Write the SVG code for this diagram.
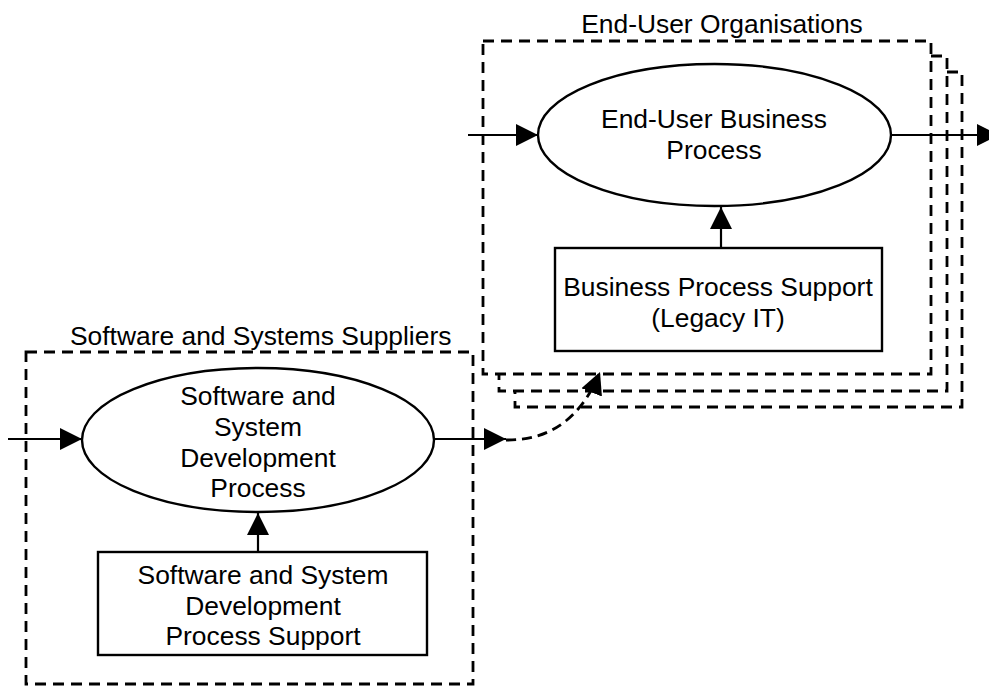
<svg xmlns="http://www.w3.org/2000/svg" width="989" height="687" viewBox="0 0 989 687">
  <style>
    .frame { fill: #ffffff; stroke: #000000; stroke-width: 2.8; stroke-dasharray: 11 7; }
    .node { fill: #ffffff; stroke: #000000; stroke-width: 2.4; }
    .label { font-family: "Liberation Sans", Arial, sans-serif; font-size: 26.4px; fill: #000000; text-anchor: middle; }
    .title { font-family: "Liberation Sans", Arial, sans-serif; font-size: 26.4px; fill: #000000; }
    .flow { fill: none; stroke: #000000; stroke-width: 2.2; }
    .dashed { stroke-dasharray: 10 6; stroke-width: 2.8; }
  </style>
  <defs>
    <marker id="head" markerUnits="userSpaceOnUse" markerWidth="22" markerHeight="22" viewBox="0 0 21 21" refX="21" refY="10.5" orient="auto">
      <path d="M0,0 L21,10.5 L0,21 z" fill="#000000"/>
    </marker>
  </defs>

  <rect width="989" height="687" fill="#ffffff"/>

  <!-- Stacked end-user organisation frames -->
  <g id="end-user-organisations">
    <rect class="frame" x="515" y="72" width="447" height="335"/>
    <rect class="frame" x="499" y="56" width="448" height="335"/>
    <rect class="frame" x="483" y="41" width="448" height="333"/>
    <text class="title" x="722" y="33" text-anchor="middle">End-User Organisations</text>
  </g>

  <!-- Supplier frame -->
  <g id="software-suppliers">
    <rect class="frame" x="26" y="352" width="447" height="332"/>
    <text class="title" x="70" y="345">Software and Systems Suppliers</text>
  </g>

  <g id="end-user-business-process">
    <ellipse class="node" cx="714.5" cy="135" rx="176.5" ry="71"/>
    <text class="label" x="714" y="128">End-User Business</text>
    <text class="label" x="714" y="159">Process</text>
  </g>

  <g id="business-process-support">
    <rect class="node" x="555" y="248" width="327" height="103"/>
    <text class="label" x="718" y="296">Business Process Support</text>
    <text class="label" x="718" y="327">(Legacy IT)</text>
  </g>

  <g id="development-process">
    <ellipse class="node" cx="258" cy="440" rx="176" ry="72"/>
    <text class="label" x="258" y="405">Software and</text>
    <text class="label" x="258" y="436">System</text>
    <text class="label" x="258" y="467">Development</text>
    <text class="label" x="258" y="497">Process</text>
  </g>

  <g id="development-process-support">
    <rect class="node" x="98" y="552" width="329" height="103"/>
    <text class="label" x="263" y="584">Software and System</text>
    <text class="label" x="263" y="615">Development</text>
    <text class="label" x="263" y="645">Process Support</text>
  </g>

  <!-- Connectors -->
  <g id="connectors">
    <path class="flow" d="M468,135 L538,135" marker-end="url(#head)"/>
    <path class="flow" d="M891,135 L999,135" marker-end="url(#head)"/>
    <path class="flow" d="M721,248 L721,207" marker-end="url(#head)"/>
    <path class="flow" d="M8,439 L82,439" marker-end="url(#head)"/>
    <path class="flow" d="M434,439 L506,439" marker-end="url(#head)"/>
    <path class="flow" d="M258,552 L258,513" marker-end="url(#head)"/>
    <path class="flow dashed" d="M506,440 Q572,441 600,372" marker-end="url(#head)"/>
  </g>
</svg>
